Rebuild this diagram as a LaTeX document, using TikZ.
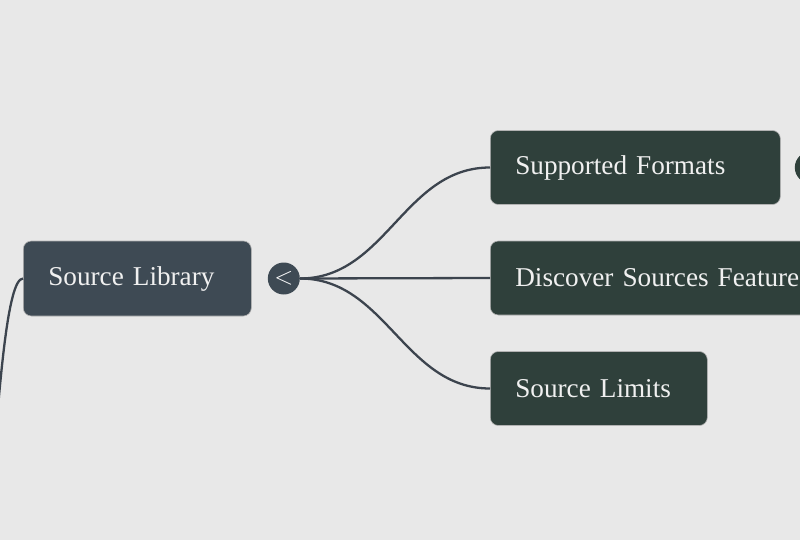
\documentclass[tikz,border=0pt]{standalone}
\usepackage{fontspec}
\setmainfont{Liberation Serif}
\usetikzlibrary{positioning}

\definecolor{bgGray}{RGB}{232,232,232}
\definecolor{rootSlate}{RGB}{62,74,84}
\definecolor{leafGreen}{RGB}{47,64,59}
\definecolor{linkGray}{RGB}{60,68,78}

\begin{document}
\begin{tikzpicture}[x=1pt, y=-1pt,
    topic/.style={rectangle, rounded corners=8pt, draw=gray!60, line width=0.6pt,
      text=white!94!black, font=\fontsize{27.2}{33}\selectfont, align=left,
      minimum height=74pt, inner xsep=25pt, anchor=west},
    toggle/.style={circle, minimum size=32pt, inner sep=0pt, text=white},
    branch/.style={draw=linkGray, line width=2.3pt}]

    % --- canvas ---
    \clip (0,0) rectangle (800,540);
    \fill[bgGray] (0,0) rectangle (800,540);

    % --- root topic ---
    \node[topic, fill=rootSlate, minimum height=75pt, text width=178pt] (root) at (23,278.5) {Source Library};
    \node[toggle, fill=rootSlate, font=\fontsize{30}{30}\selectfont, right=16pt of root] (rootToggle) {$<$};
    \coordinate (parent) at (-40,700); % parent lies off the canvas

    % --- subtopics ---
    \node[topic, fill=leafGreen, text width=240pt] (formats) at (490,167.5) {Supported Formats};
    \node[topic, fill=leafGreen, text width=290pt] (discover) at (490,278) {Discover Sources Feature};
    \node[topic, fill=leafGreen, text width=167pt] (limits) at (490,388.5) {Source Limits};
    \node[toggle, fill=leafGreen, right=14pt of formats] (formatsToggle) {};

    % --- branches ---
    \draw[branch] (parent) .. controls (-9,700) and (-8,278.5) .. (root.west);
    \draw[branch] (rootToggle.east) to[out=0, in=180] (formats.west);
    \draw[branch] (rootToggle.east) -- (discover.west);
    \draw[branch] (rootToggle.east) to[out=0, in=180] (limits.west);
\end{tikzpicture}
\end{document}
